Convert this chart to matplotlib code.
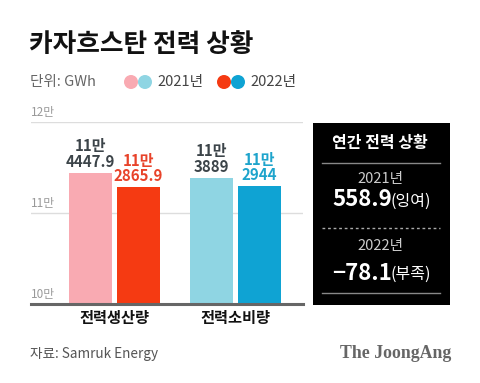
import numpy as np
import matplotlib.pyplot as plt
from matplotlib.patches import Circle, Rectangle

plt.rcParams['font.family'] = ['Noto Sans CJK KR', 'DejaVu Sans']

# ----------------------------------------------------------------
# Data (GWh)
# ----------------------------------------------------------------
categories = ['전력생산량', '전력소비량']
years = ['2021년', '2022년']
values_2021 = [114447.9, 113889]
values_2022 = [112865.9, 112944]
yticks = [100000, 110000, 120000]
ytick_labels = ['10만', '11만', '12만']

balance = [values_2021[0] - values_2021[1], values_2022[0] - values_2022[1]]
balance_words = ['(잉여)', '(부족)']

# Colors
col_2021 = ['#f9aab2', '#8fd5e3']
col_2022 = ['#f53a12', '#0fa3d3']
txt_2022 = ['#e8432a', '#1ea4cc']
txt_dark = '#3c4449'
gray = '#666666'

W, H = 480, 383
fig = plt.figure(figsize=(W / 100, H / 100), dpi=100)
fig.patch.set_facecolor('white')

# Overlay axes in pixel coordinates (y downwards)
ov = fig.add_axes([0, 0, 1, 1])
ov.set_xlim(0, W)
ov.set_ylim(H, 0)
ov.axis('off')


def label_man(v):
  man = int(v // 10000)
  rest = v - man * 10000
  return '{}만\n{:g}'.format(man, rest)


# ----------------------------------------------------------------
# Title, unit, legend
# ----------------------------------------------------------------
ov.text(29, 44, '카자흐스탄 전력 상황', fontsize=18.5, fontweight='black', color='#111111',
        ha='left', va='center')
ov.text(30, 82, '단위: GWh', fontsize=10.5, color=gray, ha='left', va='center')

legend_x = [131, 224]
for i, yr in enumerate(years):
  cols = col_2021 if i == 0 else col_2022
  ov.add_patch(Circle((legend_x[i], 82), 7, color=cols[0], lw=0))
  ov.add_patch(Circle((legend_x[i] + 14, 82), 7, color=cols[1], lw=0))
  ov.text(legend_x[i] + 26, 82, yr, fontsize=10.5, color='#444444', ha='left', va='center')

# ----------------------------------------------------------------
# Bar chart
# ----------------------------------------------------------------
px_l, px_r, px_top, px_bot = 31, 303, 122, 304
ax = fig.add_axes([px_l / W, 1 - px_bot / H, (px_r - px_l) / W, (px_bot - px_top) / H])
ax.patch.set_alpha(0)
gap = 121.5
x0 = 114
ax.set_xlim((px_l - x0) / gap, (px_r - x0) / gap)
ax.set_ylim(yticks[0], yticks[-1])

x = np.arange(len(categories))
bw = 43 / gap
off = 24 / gap

for yv in yticks[1:]:
  ax.axhline(yv, color='#dddddd', lw=1, zorder=0)
ax.axhline(yticks[0], color='#666666', lw=2.2, zorder=3, clip_on=False)
for yv, lab in zip(yticks, ytick_labels):
  ax.annotate(lab, (0, yv), xycoords=('axes fraction', 'data'), xytext=(0, 2),
              textcoords='offset points', fontsize=8.5, color='#999999', ha='left', va='bottom')

ax.bar(x - off, values_2021, bw, color=col_2021, zorder=2)
ax.bar(x + off, values_2022, bw, color=col_2022, zorder=2)

for i in range(len(categories)):
  ax.annotate(label_man(values_2021[i]), (x[i] - off, values_2021[i]), xytext=(0, 2),
              textcoords='offset points', ha='center', va='bottom', fontsize=10.8,
              fontweight='bold', color=txt_dark, linespacing=0.95)
  ax.annotate(label_man(values_2022[i]), (x[i] + off, values_2022[i]), xytext=(0, 2),
              textcoords='offset points', ha='center', va='bottom', fontsize=10.8,
              fontweight='bold', color=txt_2022[i], linespacing=0.95)

ax.set_xticks(x)
ax.set_xticklabels(categories, fontsize=11, fontweight='bold', color='#111111')
ax.tick_params(axis='x', length=0, pad=4)
ax.set_yticks([])
for s in ax.spines.values():
  s.set_visible(False)

# ----------------------------------------------------------------
# Black summary box
# ----------------------------------------------------------------
ov.add_patch(Rectangle((313, 123), 137, 182, color='black', lw=0))
ov.text(380, 143, '연간 전력 상황', fontsize=11.5, fontweight='bold', color='white',
        ha='center', va='center')
ov.plot([322, 440], [163, 163], color='#888888', lw=1)
ov.plot([322, 440], [228, 228], color='#aaaaaa', lw=1, ls=(0, (2, 2)))
ov.plot([322, 440], [293, 293], color='#888888', lw=1)

year_y = [179, 246]
val_y = [200, 273]
for i in range(2):
  ov.text(380, year_y[i], years[i], fontsize=10.5, color='#cccccc', ha='center', va='center')
  num = '{:.1f}'.format(balance[i]).replace('-', '−')
  ov.text(392, val_y[i], num, fontsize=16, fontweight='bold', color='white',
          ha='right', va='center')
  ov.text(391, val_y[i] + 1, balance_words[i], fontsize=11.5, color='white',
          ha='left', va='center')

# ----------------------------------------------------------------
# Footer
# ----------------------------------------------------------------
ov.text(30, 354, '자료: Samruk Energy', fontsize=9.8, color='#555555', ha='left', va='center')
ov.text(451, 354, 'The JoongAng', fontsize=12.8, fontweight='bold', color='#666666',
        family='Liberation Serif', ha='right', va='center')

fig.savefig('out.png', dpi=100)
